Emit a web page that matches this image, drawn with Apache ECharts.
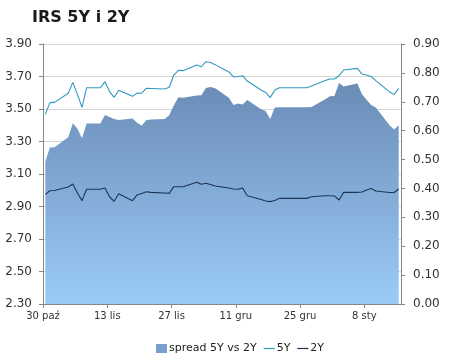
<!DOCTYPE html>
<html>
<head>
<meta charset="utf-8">
<script src="https://cdn.jsdelivr.net/npm/echarts@6/dist/echarts.min.js"></script>
<style>html,body{margin:0;padding:0;background:#fff;}#c{width:450px;height:363px;}</style>
</head>
<body>
<div id="c"></div>
<script>
const dates = ['2013-10-30','2013-10-31','2013-11-01','2013-11-04','2013-11-05','2013-11-06','2013-11-07','2013-11-08',
'2013-11-11','2013-11-12','2013-11-13','2013-11-14','2013-11-15','2013-11-18','2013-11-19','2013-11-20','2013-11-21','2013-11-22',
'2013-11-25','2013-11-26','2013-11-27','2013-11-28','2013-11-29','2013-12-02','2013-12-03','2013-12-04','2013-12-05','2013-12-06',
'2013-12-09','2013-12-10','2013-12-11','2013-12-12','2013-12-13','2013-12-16','2013-12-17','2013-12-18','2013-12-19','2013-12-20',
'2013-12-23','2013-12-24','2013-12-25','2013-12-26','2013-12-27','2013-12-30','2013-12-31','2014-01-01','2014-01-02','2014-01-03',
'2014-01-06','2014-01-07','2014-01-08','2014-01-09','2014-01-10','2014-01-13','2014-01-14','2014-01-15'];

const irs5y = [3.467,3.539,3.541,3.597,3.664,3.590,3.510,3.631,
3.631,3.668,3.607,3.572,3.615,3.578,3.598,3.597,3.627,3.626,
3.623,3.634,3.709,3.738,3.736,3.771,3.760,3.791,3.786,3.773,
3.728,3.697,3.700,3.705,3.672,3.617,3.602,3.570,3.617,3.631,
3.631,3.631,3.631,3.631,3.642,3.675,3.685,3.685,3.705,3.740,
3.750,3.715,3.709,3.700,3.675,3.605,3.590,3.627];

const irs2y = [2.975,2.997,2.998,3.020,3.038,2.983,2.936,3.006,
3.006,3.014,2.960,2.932,2.978,2.936,2.971,2.980,2.991,2.987,
2.983,2.981,3.022,3.022,3.022,3.049,3.037,3.043,3.035,3.026,
3.014,3.008,3.006,3.014,2.966,2.943,2.934,2.930,2.937,2.950,
2.950,2.950,2.950,2.950,2.960,2.966,2.966,2.965,2.940,2.987,
2.987,2.989,3.002,3.011,2.995,2.986,2.986,3.008];

const spread = [0.492,0.542,0.543,0.577,0.626,0.607,0.574,0.625,
0.625,0.654,0.647,0.640,0.637,0.642,0.627,0.617,0.636,0.639,
0.640,0.653,0.687,0.716,0.714,0.722,0.723,0.748,0.751,0.747,
0.714,0.689,0.694,0.691,0.706,0.674,0.668,0.640,0.680,0.681,
0.681,0.681,0.681,0.681,0.682,0.709,0.719,0.720,0.765,0.753,
0.763,0.726,0.707,0.689,0.680,0.619,0.604,0.619];

const tickLabels = ['30 paź','13 lis','27 lis','11 gru','25 gru','8 sty'];
const startDate = '2013-10-30';
const spanDays = 78;

const dayMs = 86400000;
const t0 = Date.parse(startDate + 'T00:00:00Z');
const xs = dates.map(d => (Date.parse(d + 'T00:00:00Z') - t0) / dayMs + 0.5);
const pairs = arr => arr.map((v, i) => [xs[i], v]);

const font = 'DejaVu Sans, Verdana, sans-serif';
const axisGray = '#868686';
const lineIcon = 'path://M0,0H10V1.1H0Z';

const chart = echarts.init(document.getElementById('c'), null, {renderer: 'canvas'});
chart.setOption({
  animation: false,
  backgroundColor: '#ffffff',
  title: {
    text: 'IRS 5Y i 2Y',
    left: 27, top: 5,
    textStyle: {fontFamily: font, fontSize: 16, fontWeight: 'bold', color: '#1a1a1a'}
  },
  grid: {left: 43, right: 49, top: 44, bottom: 59, containLabel: false},
  legend: {
    bottom: 4, left: 151,
    itemGap: 7, itemWidth: 11, itemHeight: 9,
    symbolKeepAspect: true,
    textStyle: {fontFamily: font, fontSize: 11, color: '#222', padding: [0,0,0,-3]},
    data: [
      {name: 'spread 5Y vs 2Y', icon: 'rect'},
      {name: '5Y', icon: lineIcon},
      {name: '2Y', icon: lineIcon}
    ]
  },
  xAxis: {
    type: 'value', min: 0, max: spanDays, interval: 14,
    axisLine: {show: true, lineStyle: {color: axisGray, width: 1}},
    axisTick: {show: true, length: 4, lineStyle: {color: axisGray}},
    splitLine: {show: false},
    axisLabel: {
      fontFamily: font, fontSize: 10, color: '#333', margin: 7,
      showMaxLabel: false,
      formatter: v => tickLabels[Math.round(v / 14)] || ''
    }
  },
  yAxis: [
    {
      type: 'value', min: 2.3, max: 3.9, interval: 0.2,
      axisLine: {show: true, lineStyle: {color: axisGray}},
      axisTick: {show: true, length: 4, lineStyle: {color: axisGray}},
      splitLine: {show: true, lineStyle: {color: '#d6d6d6', width: 1}},
      axisLabel: {fontFamily: font, fontSize: 12, color: '#333', margin: 11, formatter: v => v.toFixed(2)}
    },
    {
      type: 'value', min: 0, max: 0.9, interval: 0.1,
      axisLine: {show: true, lineStyle: {color: axisGray}},
      axisTick: {show: true, length: 4, lineStyle: {color: axisGray}},
      splitLine: {show: false},
      axisLabel: {fontFamily: font, fontSize: 12, color: '#333', margin: 12, formatter: v => v.toFixed(2)}
    }
  ],
  series: [
    {
      name: 'spread 5Y vs 2Y', type: 'line', yAxisIndex: 1,
      data: pairs(spread), symbol: 'none', showSymbol: false,
      itemStyle: {color: '#7a9fcc'},
      lineStyle: {width: 0, color: '#7a9fcc'},
      areaStyle: {
        opacity: 1,
        color: {type: 'linear', x: 0, y: 0, x2: 0, y2: 1, colorStops: [
          {offset: 0, color: '#6a8cb6'},
          {offset: 1, color: '#9bcbf7'}
        ]}
      },
      z: 1
    },
    {
      name: '5Y', type: 'line', yAxisIndex: 0,
      data: pairs(irs5y), symbol: 'none', showSymbol: false,
      itemStyle: {color: '#3198c0'},
      lineStyle: {width: 1.1, color: '#3198c0'},
      z: 3
    },
    {
      name: '2Y', type: 'line', yAxisIndex: 0,
      data: pairs(irs2y), symbol: 'none', showSymbol: false,
      itemStyle: {color: '#1c3553'},
      lineStyle: {width: 1.1, color: '#1c3553'},
      z: 3
    }
  ]
});
</script>
</body>
</html>
